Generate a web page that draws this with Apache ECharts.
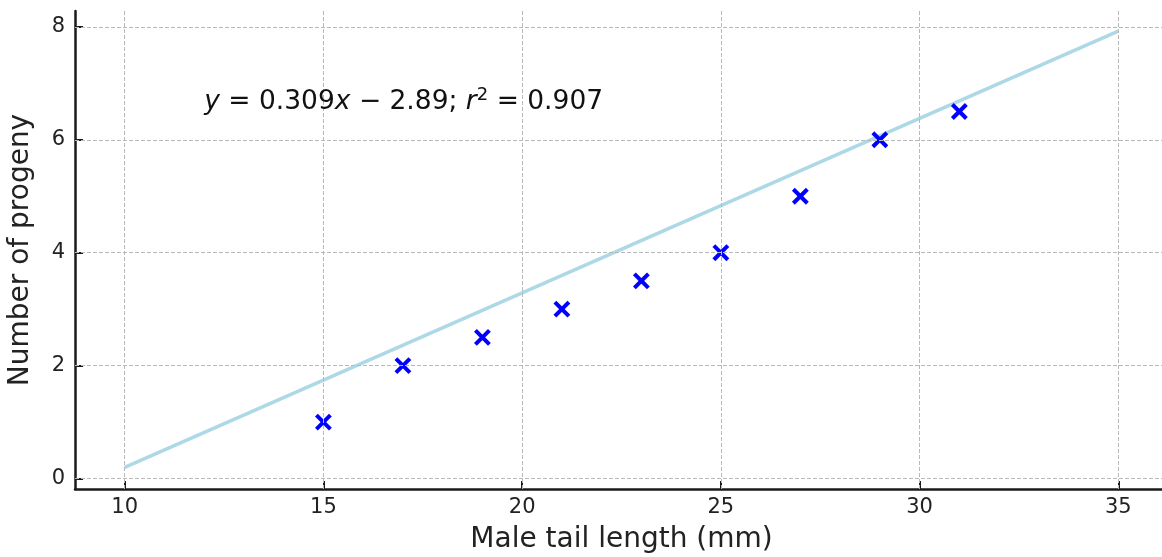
<!DOCTYPE html>
<html><head><meta charset="utf-8">
<script src="https://cdn.jsdelivr.net/npm/echarts@6/dist/echarts.min.js"></script>
<style>html,body{margin:0;padding:0;background:#fff}#c{width:1162px;height:557px}</style>
</head><body><div id="c"></div>
<script>
const tailLength = [15, 17, 19, 21, 23, 25, 27, 29, 31];
const progeny = [1, 2, 2.5, 3, 3.5, 4, 5, 6, 6.5];
const fitLineX = [10, 35];
const fitLineY = [0.2, 7.925];
const xTicks = [10, 15, 20, 25, 30, 35];
const yTicks = [0, 2, 4, 6, 8];
const equationPos = [12, 6.5];
const equationText = '{i|y} = 0.309{i|x} \u2212 2.89; {i|r}{s|2} = 0.907';

const FONT = 'DejaVu Sans';
const chart = echarts.init(document.getElementById('c'), null, {renderer: 'canvas'});

const axisCommon = {
  axisLine: {show: true, onZero: false, lineStyle: {color: '#1a1a1a', width: 2.5}},
  splitLine: {show: false},
  nameLocation: 'middle',
  nameTextStyle: {fontFamily: FONT, fontSize: 28, color: '#222'}
};

chart.setOption({
  animation: false,
  backgroundColor: '#fff',
  grid: {left: 75, top: 11, right: -6, bottom: 68, containLabel: false, outerBoundsMode: 'none'},
  xAxis: Object.assign({}, axisCommon, {
    type: 'value', min: 8.75, max: 36.25,
    name: 'Male tail length (mm)', nameGap: 37,
    axisTick: {show: true, inside: true, length: 8, lineStyle: {color: '#1a1a1a', width: 2}, customValues: xTicks},
    axisLabel: {customValues: xTicks, fontFamily: FONT, fontSize: 21, color: '#222', margin: 8}
  }),
  yAxis: Object.assign({}, axisCommon, {
    type: 'value', min: -0.184, max: 8.28,
    name: 'Number of progeny', nameGap: 40,
    axisTick: {show: true, inside: true, length: 8, lineStyle: {color: '#1a1a1a', width: 2}, customValues: yTicks},
    axisLabel: {customValues: yTicks, fontFamily: FONT, fontSize: 21, color: '#222', margin: 10}
  }),
  series: [
    {
      type: 'line', data: [], z: 1, silent: true,
      markLine: {
        symbol: 'none', silent: true, animation: false,
        label: {show: false},
        lineStyle: {type: [4, 2], color: '#b8b8b8', width: 1},
        data: yTicks.map(v => ({yAxis: v})).concat(xTicks.map(v => ({xAxis: v})))
      }
    },
    {
      type: 'line', z: 3, symbol: 'none', silent: true,
      data: fitLineX.map((x, i) => [x, fitLineY[i]]),
      lineStyle: {color: '#add8e6', width: 3.5}
    },
    {
      type: 'custom', z: 4, silent: true,
      data: tailLength.map((x, i) => [x, progeny[i]]),
      renderItem: function (params, api) {
        const p = api.coord([api.value(0), api.value(1)]);
        const h = 7;
        const st = {stroke: '#0000ff', lineWidth: 4};
        return {type: 'group', children: [
          {type: 'line', shape: {x1: p[0] - h, y1: p[1] - h, x2: p[0] + h, y2: p[1] + h}, style: st},
          {type: 'line', shape: {x1: p[0] - h, y1: p[1] + h, x2: p[0] + h, y2: p[1] - h}, style: st}
        ]};
      }
    }
  ]
});

const ep = chart.convertToPixel({gridIndex: 0}, equationPos);
chart.setOption({
  graphic: [{
    type: 'text', x: ep[0], y: ep[1] - 9, z: 10, silent: true,
    style: {
      text: equationText, fontFamily: FONT, fontSize: 26.5, fill: '#111',
      align: 'left', verticalAlign: 'middle',
      rich: {
        i: {fontFamily: FONT, fontSize: 26.5, fontStyle: 'italic', fill: '#111'},
        s: {fontFamily: FONT, fontSize: 18, lineHeight: 18, padding: [0, 0, 14, 0], fill: '#111'}
      }
    }
  }]
});
</script>
</body></html>
